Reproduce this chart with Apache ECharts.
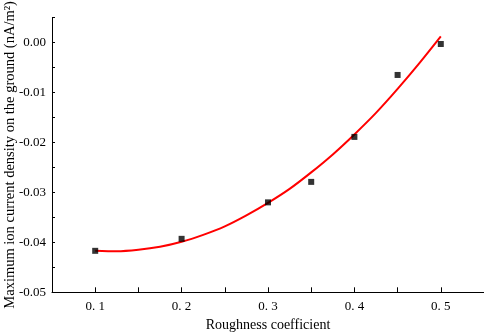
<!DOCTYPE html>
<html>
<head>
<meta charset="utf-8">
<script src="https://cdn.jsdelivr.net/npm/echarts@6/dist/echarts.min.js"></script>
<style>
html,body{margin:0;padding:0;background:#fff;}
#chart{width:484px;height:333px;}
</style>
</head>
<body>
<div id="chart"></div>
<script>
// measured points
var roughness = [0.1, 0.2, 0.3, 0.35, 0.4, 0.45, 0.5];
var currentDensity = [-0.0417, -0.0393, -0.0320, -0.0279, -0.0189, -0.0065, -0.0003];

// fitted curve
var fitX = [0.1, 0.125, 0.15, 0.175, 0.2, 0.225, 0.25, 0.275, 0.3, 0.325, 0.35, 0.375, 0.4, 0.425, 0.45, 0.475, 0.5];
var fitY = [-0.0417, -0.0418, -0.0415, -0.0409, -0.0399, -0.0385, -0.0368, -0.0346, -0.0321, -0.0293, -0.0260, -0.0224, -0.0184, -0.0141, -0.0093, -0.0042, 0.0012];

var xTicks = [0.1, 0.2, 0.3, 0.4, 0.5];

var myChart = echarts.init(document.getElementById('chart'));

function pairs(xs, ys)
{
	var out = [];
	for(var i=0;i<xs.length;i++)
	{
		out.push([xs[i], ys[i]]);
	}
	return out;
}

var serif = '"Liberation Serif", "Times New Roman", serif';

var option = {
	backgroundColor: '#fff',
	animation: false,
	grid: {left: 52, right: 0, top: 17.5, bottom: 40.7, containLabel: false, outerBoundsMode: 'none'},
	xAxis: {
		type: 'value',
		min: 0.05,
		max: 0.55,
		interval: 0.05,
		name: 'Roughness coefficient',
		nameLocation: 'middle',
		nameGap: 26,
		nameMoveOverlap: false,
		nameTextStyle: {color: '#000', fontFamily: serif, fontSize: 14},
		axisLine: {show: true, onZero: false, lineStyle: {color: '#000', width: 1}},
		axisTick: {show: true, inside: true, length: 5, lineStyle: {color: '#000'}},
		splitLine: {show: false},
		axisLabel: {
			color: '#000',
			fontFamily: serif,
			fontSize: 13,
			margin: 8,
			formatter: function(v){
				var r = Math.round(v*100)/100;
				if(xTicks.indexOf(r) == -1) return '';
				return String(r).replace('.', '. ');
			}
		}
	},
	yAxis: {
		type: 'value',
		min: -0.05,
		max: 0.005,
		interval: 0.005,
		name: 'Maximum ion current density on the ground (nA/m²)',
		nameLocation: 'middle',
		nameGap: 34,
		nameMoveOverlap: false,
		nameTextStyle: {color: '#000', fontFamily: serif, fontSize: 14.5},
		axisLine: {show: true, onZero: false, lineStyle: {color: '#000', width: 1}},
		axisTick: {show: true, inside: true, length: 3, lineStyle: {color: '#000'}},
		splitLine: {show: false},
		axisLabel: {
			color: '#000',
			fontFamily: serif,
			fontSize: 13,
			margin: 6,
			formatter: function(v){
				var k = Math.round(v*1000);
				if(k % 10 != 0 || k > 0) return '';
				return (k/1000).toFixed(2);
			}
		}
	},
	series: [
		{
			name: 'fit',
			type: 'line',
			data: pairs(fitX, fitY),
			smooth: 0.3,
			showSymbol: false,
			lineStyle: {color: '#ff0000', width: 2},
			z: 2
		},
		{
			name: 'data',
			type: 'scatter',
			data: pairs(roughness, currentDensity),
			symbol: 'rect',
			symbolSize: 6,
			itemStyle: {color: '#000'},
			z: 3
		}
	]
};

myChart.setOption(option);
</script>
</body>
</html>
